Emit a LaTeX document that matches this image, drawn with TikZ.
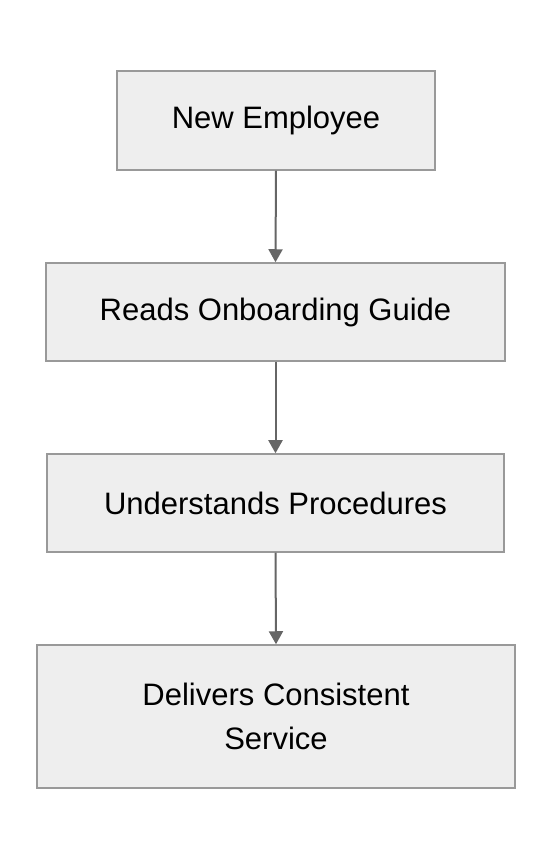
\documentclass[tikz,border=0pt]{standalone}
\usepackage{fontspec}
\setmainfont{Liberation Sans}
\usetikzlibrary{arrows.meta}
\definecolor{boxfill}{HTML}{EEEEEE}
\definecolor{boxline}{HTML}{999999}
\definecolor{arrowcol}{HTML}{666666}
\tikzset{
  stepbox/.style={draw=boxline, fill=boxfill, line width=1.5pt, inner sep=0pt, align=center,
    font=\fontsize{31}{44}\selectfont},
  flow/.style={draw=arrowcol, line width=2pt, -{Triangle[length=13pt,width=14pt]}}
}
\begin{document}
\begin{tikzpicture}[x=1pt,y=1pt]
\useasboundingbox (0,0) rectangle (552,860);
\node[stepbox, minimum width=318pt, minimum height=99pt] (a) at (276,{860-120.5}) {New Employee};
\node[stepbox, minimum width=459pt, minimum height=98pt] (b) at (275.5,{860-312}) {Reads Onboarding Guide};
\node[stepbox, minimum width=457pt, minimum height=98pt] (c) at (275.5,{860-503}) {Understands Procedures};
\node[stepbox, minimum width=478pt, minimum height=143pt] (d) at (276,{860-716.5}) {Delivers Consistent\\Service};
\draw[flow] (a.south) -- (b.north);
\draw[flow] (b.south) -- (c.north);
\draw[flow] (c.south) -- (d.north);
\end{tikzpicture}
\end{document}
